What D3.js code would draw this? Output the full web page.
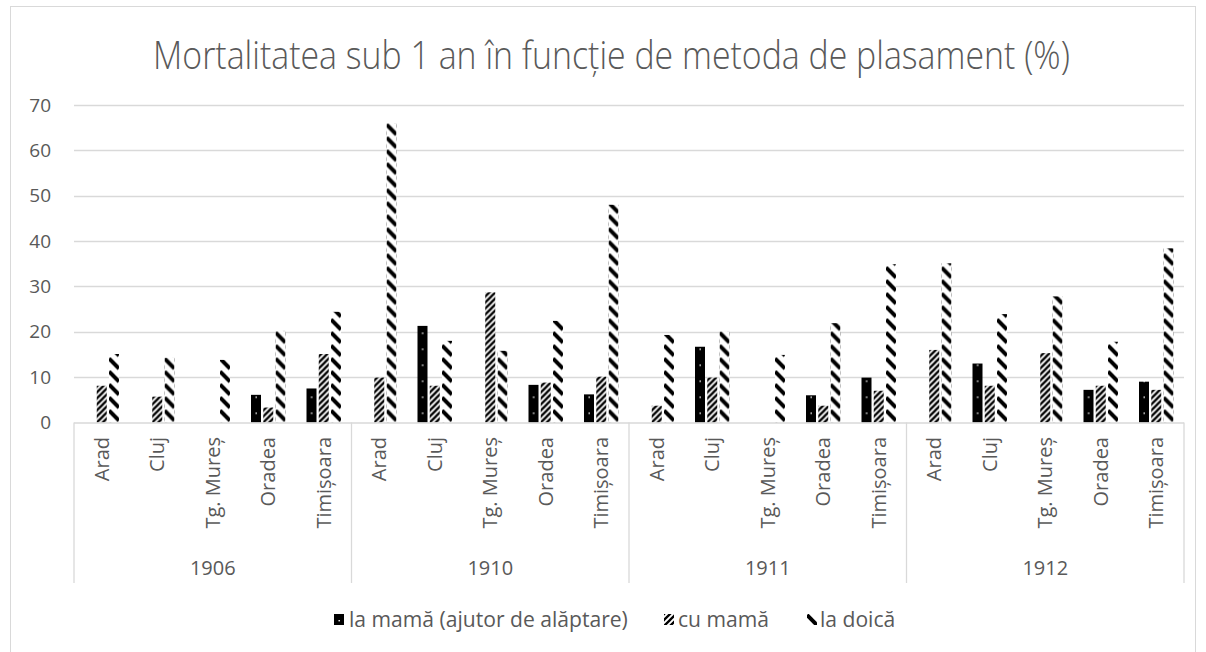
<!DOCTYPE html>
<html>
<head>
<meta charset="utf-8">
<script src="https://cdn.jsdelivr.net/npm/d3@7"></script>
<style>
  html, body { margin: 0; padding: 0; background: #fff; }
  svg { display: block; font-family: "Open Sans", sans-serif; }
</style>
</head>
<body>
<svg id="chart" width="1206" height="652"></svg>
<script>
const title = "Mortalitatea sub 1 an în funcție de metoda de plasament (%)";
const years = ["1906", "1910", "1911", "1912"];
const cities = ["Arad", "Cluj", "Tg. Mureș", "Oradea", "Timișoara"];
const seriesNames = ["la mamă (ajutor de alăptare)", "cu mamă", "la doică"];
const yTicks = [0, 10, 20, 30, 40, 50, 60, 70];

// values per year, in city order
const laMama = {
  "1906": [null, null, null, 6.1, 7.5],
  "1910": [null, 21.3, null, 8.3, 6.2],
  "1911": [null, 16.7, null, 6.0, 9.9],
  "1912": [null, 13.0, null, 7.2, 9.0]
};
const cuMama = {
  "1906": [8.1, 5.7, null, 3.3, 15.1],
  "1910": [9.9, 8.1, 28.7, 8.8, 10.1],
  "1911": [3.7, 9.9, null, 3.7, 7.0],
  "1912": [16.0, 8.1, 15.3, 8.1, 7.2]
};
const laDoica = {
  "1906": [15.1, 14.3, 13.8, 20.2, 24.4],
  "1910": [66.0, 18.0, 15.8, 22.4, 48.0],
  "1911": [19.3, 20.1, 14.9, 21.9, 34.9],
  "1912": [35.1, 23.9, 27.8, 17.8, 38.4]
};
const seriesData = [laMama, cuMama, laDoica];

const svg = d3.select("#chart");
const grey = "#595959", lineGrey = "#d9d9d9";

// ---------- patterns ----------
const defs = svg.append("defs");
const p0 = defs.append("pattern").attr("id", "pat0").attr("patternUnits", "userSpaceOnUse")
  .attr("width", 10).attr("height", 16);
p0.append("rect").attr("width", 10).attr("height", 16).attr("fill", "#000");
p0.append("rect").attr("x", 4.5).attr("y", 6).attr("width", 1.4).attr("height", 1.4).attr("fill", "#fff");

const p1 = defs.append("pattern").attr("id", "pat1").attr("patternUnits", "userSpaceOnUse")
  .attr("width", 6).attr("height", 6);
p1.append("rect").attr("width", 6).attr("height", 6).attr("fill", "#fff");
p1.append("path").attr("d", "M-1,7 L7,-1 M-4,4 L4,-4 M2,10 L10,2")
  .attr("stroke", "#000").attr("stroke-width", 2.3);

const p2 = defs.append("pattern").attr("id", "pat2").attr("patternUnits", "userSpaceOnUse")
  .attr("width", 10).attr("height", 13);
p2.append("rect").attr("width", 10).attr("height", 13).attr("fill", "#fff");
p2.append("path").attr("d", "M0,1 L10,11").attr("stroke", "#000").attr("stroke-width", 4);

const fills = ["url(#pat0)", "url(#pat1)", "url(#pat2)"];

// ---------- frame ----------
svg.append("rect").attr("x", 10.5).attr("y", 6.5).attr("width", 1185).attr("height", 670)
  .attr("fill", "none").attr("stroke", lineGrey);

// ---------- scales ----------
const plotL = 74, plotR = 1184, y0 = 422.5, yTop = 105;
const y = d3.scaleLinear().domain([0, 70]).range([y0, yTop]);
const xYear = d3.scaleBand().domain(years).range([plotL, plotR]).padding(0);
const xCity = d3.scaleBand().domain(cities).range([0, xYear.bandwidth()]).padding(0);
const half = 17.25;
const xSer = d3.scaleBand().domain([0, 1, 2]).range([0, 2 * half]).paddingInner(0.1837).paddingOuter(0);

// ---------- gridlines ----------
svg.append("g").selectAll("line").data(yTicks.filter(d => d > 0)).join("line")
  .attr("x1", plotL).attr("x2", plotR)
  .attr("y1", d => Math.round(y(d)) + 0.5).attr("y2", d => Math.round(y(d)) + 0.5)
  .attr("stroke", lineGrey).attr("stroke-width", 1.3);

// y tick labels
svg.append("g").selectAll("text").data(yTicks).join("text")
  .attr("x", 51).attr("y", d => y(d)).attr("dy", "0.35em")
  .attr("text-anchor", "end").attr("fill", grey).attr("font-size", 19)
  .text(d => d);

// ---------- bars ----------
const barsG = svg.append("g");
years.forEach(yr => {
  cities.forEach((c, ci) => {
    const cx = xYear(yr) + xCity(c) + xCity.bandwidth() / 2;
    seriesData.forEach((s, si) => {
      const v = s[yr][ci];
      if (v == null) return;
      const bx = cx - half + xSer(si);
      const g = barsG.append("g").attr("transform", `translate(${bx},${y0})`);
      g.append("rect").attr("x", 0).attr("y", y(v) - y0)
        .attr("width", xSer.bandwidth()).attr("height", y0 - y(v))
        .attr("fill", fills[si]);
    });
  });
});

// ---------- category axis ----------
const axisG = svg.append("g");
axisG.append("line").attr("x1", plotL).attr("x2", plotR).attr("y1", y0 + 0.5).attr("y2", y0 + 0.5)
  .attr("stroke", lineGrey).attr("stroke-width", 1.3);
const seps = years.map(yr => xYear(yr)).concat([plotR]);
axisG.selectAll("line.sep").data(seps).join("line").attr("class", "sep")
  .attr("x1", d => d).attr("x2", d => d).attr("y1", y0).attr("y2", 583)
  .attr("stroke", lineGrey).attr("stroke-width", 1.3);

years.forEach(yr => {
  cities.forEach(c => {
    const cx = xYear(yr) + xCity(c) + xCity.bandwidth() / 2;
    axisG.append("text")
      .attr("transform", `translate(${cx},437) rotate(-90)`)
      .attr("text-anchor", "end").attr("dy", "0.35em")
      .attr("fill", grey).attr("font-size", 20).text(c);
  });
  axisG.append("text").attr("x", xYear(yr) + xYear.bandwidth() / 2).attr("y", 575)
    .attr("text-anchor", "middle").attr("fill", grey).attr("font-size", 20).text(yr);
});

// ---------- title (horizontally condensed to mimic the original face) ----------
const titleT = svg.append("text").attr("x", 0).attr("y", 0).attr("text-anchor", "middle")
  .attr("fill", grey).attr("font-size", 39).attr("font-weight", 300).text(title);
const natW = titleT.node().getComputedTextLength();
titleT.attr("transform", `translate(611.5,69) scale(${917 / natW},1)`);

// ---------- legend ----------
const legX = [334, 664, 807];
const legTX = [349, 678, 820];
const legG = svg.append("g");
seriesNames.forEach((n, i) => {
  const g = legG.append("g").attr("transform", `translate(${legX[i]},614)`);
  g.append("rect").attr("width", 10).attr("height", 11).attr("fill", fills[i]);
  legG.append("text").attr("x", legTX[i]).attr("y", 620).attr("dy", "0.35em")
    .attr("fill", grey).attr("font-size", 20).text(n);
});
// fit legend font to the reference width of the first entry
const firstLeg = legG.selectAll("text").nodes()[0];
const lw = firstLeg.getComputedTextLength();
legG.selectAll("text").attr("font-size", 20 * 279 / lw);
</script>
</body>
</html>
